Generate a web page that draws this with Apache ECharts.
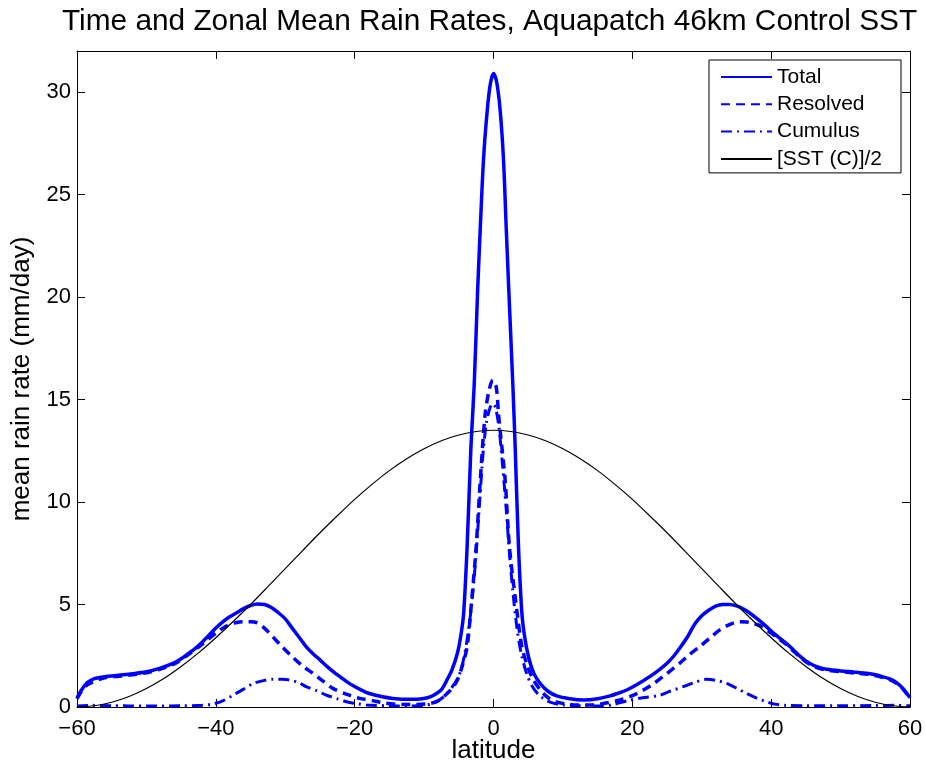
<!DOCTYPE html>
<html>
<head>
<meta charset="utf-8">
<script src="https://cdn.jsdelivr.net/npm/echarts@6/dist/echarts.min.js"></script>
<style>html,body{margin:0;padding:0;background:#fff;overflow:hidden;}#c{width:926px;height:765px;}</style>
</head>
<body>
<div id="c"></div>
<script>
// ---- data ----
const xTicks = [-60, -40, -20, 0, 20, 40, 60];
const yTicks = [0, 5, 10, 15, 20, 25, 30];

const totalLat = [-60,-59.5,-59,-58.5,-57.5,-56,-54,-52,-50,-48,
  -46,-45,-44,-43,-42,-41,-40,-39,-38,-37,
  -36,-35,-34,-33,-32,-31,-30,-29,-28,-27,
  -26,-25,-24,-23,-22,-21,-20,-19,-18,-16,
  -14.5,-13,-11,-9.5,-8.5,-7.5,-6.7,-6,-5.2,-4.7,
  -4.3,-3.8,-3.25,-2.78,-2.3,-1.9,-1.44,-0.9,-0.45,0,
  0.45,0.96,1.44,1.83,2.22,2.8,3.12,3.6,4.09,4.5,
  5.04,5.8,6.7,7.8,9.1,11,13,15,16.8,18,
  19.2,20.8,22.5,24,25,26,27,28,29,30,
  31,32,33,34,35,36,37,38,39,40,
  41,42,43,44,45,46,47,48,50,52,
  54,55,56,57,58,59,60];
const totalVal = [0.44,0.75,1.0,1.2,1.38,1.48,1.55,1.62,1.72,1.9,
  2.15,2.35,2.6,2.85,3.15,3.5,3.85,4.15,4.4,4.6,
  4.8,4.95,5.02,5.0,4.85,4.6,4.3,3.85,3.4,2.95,
  2.6,2.3,1.98,1.7,1.45,1.2,1.0,0.82,0.67,0.5,
  0.42,0.38,0.38,0.45,0.6,0.85,1.32,1.8,2.62,3.5,
  4.57,7.82,12.7,15.7,20.2,23.4,26.7,29.1,30.4,30.9,
  30.5,29.1,26.7,23.4,20.2,15.6,12.7,7.82,4.57,3.4,
  2.45,1.65,1.16,0.78,0.54,0.4,0.34,0.4,0.54,0.68,
  0.83,1.12,1.48,1.85,2.13,2.5,2.95,3.45,4.05,4.45,
  4.72,4.92,5.0,5.0,4.93,4.78,4.56,4.3,4.02,3.7,
  3.42,3.15,2.85,2.52,2.25,2.05,1.92,1.84,1.76,1.7,
  1.63,1.57,1.48,1.38,1.2,0.9,0.45];

const resolvedLat = [-60,-59,-58,-56,-54,-52,-50,-48,-46,-44,
  -42,-40,-38.5,-37,-36,-35,-34,-33,-31.8,-30.5,
  -29,-27.5,-26,-24.5,-23.15,-21,-19.3,-17,-15.5,-13,
  -11,-9,-8,-7.2,-6,-5.2,-4.5,-3.8,-3.1,-2.5,
  -1.9,-1.2,-0.6,-0.1,0.4,0.72,1.2,1.68,2.3,3.12,
  4.09,5,5.76,6.7,7.69,9,10.5,12,14.4,16,
  18.2,20,21.6,23,24.4,25.6,26.8,28.2,29.7,31.2,
  32.6,34,35.5,36.5,37.4,38.5,39.5,40.7,42,43,
  44,45,46,47,48,50,52,54,55,56,
  57,58,59,60];
const resolvedVal = [0.4,0.95,1.18,1.43,1.5,1.57,1.67,1.85,2.1,2.55,
  3.05,3.6,3.95,4.12,4.16,4.16,4.1,3.85,3.43,2.95,
  2.45,2.0,1.64,1.25,0.91,0.6,0.42,0.28,0.18,0.12,
  0.12,0.18,0.3,0.5,0.9,1.32,2.0,2.94,5.38,7.8,
  11.07,14.3,15.5,15.95,15.6,14.3,12.7,11.07,7.8,5.38,
  2.94,1.9,1.32,0.85,0.5,0.25,0.15,0.1,0.1,0.18,
  0.34,0.55,0.83,1.12,1.48,1.8,2.13,2.55,2.94,3.37,
  3.76,4.02,4.16,4.15,4.08,3.95,3.72,3.43,3.1,2.8,
  2.48,2.2,2.0,1.88,1.8,1.72,1.66,1.6,1.53,1.45,
  1.35,1.17,0.87,0.42];

const cumulusLat = [-60,-58,-55,-50,-45,-42,-40.4,-39,-37.5,-36,
  -34.6,-33,-31.8,-30.5,-29.4,-28,-27,-25.5,-24.1,-22.5,
  -21.2,-19.5,-18.3,-15,-12,-10,-9,-8,-7,-6,
  -5,-4.2,-3.5,-3,-2.5,-2,-1.5,-1,-0.5,-0.1,
  0.3,0.8,1.3,1.8,2.3,2.8,3.4,4,4.8,5.6,
  6.5,7.5,8.5,10,12,15,17,19.2,21.5,24,
  25.5,27.3,29,30.7,32,33.5,35,36.4,38,39.3,
  40.5,42,45,50,55,58,60];
const cumulusVal = [0.05,0.08,0.06,0.05,0.06,0.08,0.15,0.3,0.58,0.87,
  1.15,1.3,1.35,1.35,1.32,1.18,0.99,0.8,0.58,0.4,
  0.26,0.15,0.1,0.06,0.05,0.08,0.15,0.3,0.55,0.95,
  1.5,2.5,4.0,5.5,7.5,10,12.4,13.9,14.6,14.8,
  14.6,13.6,11.8,9.8,7.5,5.6,3.8,2.6,1.6,1.0,
  0.6,0.35,0.2,0.1,0.06,0.05,0.1,0.3,0.45,0.58,
  0.78,0.99,1.2,1.35,1.3,1.16,0.92,0.67,0.42,0.26,
  0.14,0.08,0.06,0.06,0.07,0.08,0.06];

const sstLat = [-60,-57.5,-55,-52.5,-50,-47.5,-45,-42.5,-40,-37.5,
  -35,-32.5,-30,-27.5,-25,-22.5,-20,-17.5,-15,-12.5,
  -10,-7.5,-5,-2.5,0,2.5,5,7.5,10,12.5,
  15,17.5,20,22.5,25,27.5,30,32.5,35,37.5,
  40,42.5,45,47.5,50,52.5,55,57.5,60];
const sstVal = [0,0.06,0.23,0.51,0.9,1.39,1.98,2.64,3.38,4.17,
  5.0,5.87,6.75,7.63,8.5,9.33,10.13,10.86,11.53,12.11,
  12.6,12.99,13.27,13.44,13.5,13.44,13.27,12.99,12.6,12.11,
  11.53,10.86,10.13,9.33,8.5,7.63,6.75,5.87,5.0,4.17,
  3.38,2.64,1.98,1.39,0.9,0.51,0.23,0.06,0];

const seriesNames = ['Total', 'Resolved', 'Cumulus', '[SST (C)]/2'];

function zip(a, b) { return a.map((x, i) => [x, b[i]]); }

const FONT = "'Liberation Sans', Arial, Helvetica, sans-serif";
const BLUE = '#0000ff';

const chart = echarts.init(document.getElementById('c'), null, { renderer: 'canvas' });

const baseX = {
  type: 'value', min: xTicks[0], max: xTicks[xTicks.length - 1], interval: 20,
  axisLine: { show: true, onZero: false, lineStyle: { color: '#000', width: 1 } },
  axisTick: { show: true, inside: true, length: 8, lineStyle: { color: '#000', width: 1 } },
  splitLine: { show: false }
};
const baseY = {
  type: 'value', min: 0, max: 32, interval: 5,
  axisLine: { show: true, onZero: false, lineStyle: { color: '#000', width: 1 } },
  axisTick: { show: true, inside: true, length: 8, lineStyle: { color: '#000', width: 1 } },
  splitLine: { show: false }
};

chart.setOption({
  animation: false,
  backgroundColor: '#fff',
  title: {
    text: 'Time and Zonal Mean Rain Rates, Aquapatch 46km Control SST',
    left: 57, top: 2,
    textStyle: { fontFamily: FONT, fontSize: 29.8, fontWeight: 'normal', color: '#000' }
  },
  grid: { left: 77, right: 16, top: 51, bottom: 58, containLabel: false, outerBoundsMode: 'none' },
  legend: {
    orient: 'vertical',
    right: 25, top: 60,
    data: seriesNames,
    backgroundColor: '#fff',
    borderColor: '#000', borderWidth: 1, borderRadius: 0,
    padding: [6, 19, 3, 11],
    itemWidth: 51, itemHeight: 14, itemGap: 5.3, itemTextGap: 5,
    itemStyle: { color: 'rgba(0,0,0,0)', borderWidth: 0, opacity: 0 },
    textStyle: { fontFamily: FONT, fontSize: 21, color: '#000', lineHeight: 22 }
  },
  xAxis: [
    Object.assign({}, baseX, {
      position: 'bottom',
      name: 'latitude', nameLocation: 'middle', nameGap: 31, nameMoveOverlap: false,
      nameTextStyle: { fontFamily: FONT, fontSize: 26, color: '#000' },
      axisLabel: {
        show: true, margin: 11, fontFamily: FONT, fontSize: 22, color: '#000',
        formatter: v => String(v).replace('-', '\u2212')
      }
    }),
    Object.assign({}, baseX, { position: 'top', axisLabel: { show: false } })
  ],
  yAxis: [
    Object.assign({}, baseY, {
      position: 'left',
      name: 'mean rain rate (mm/day)', nameLocation: 'middle', nameGap: 42, nameMoveOverlap: false,
      nameTextStyle: { fontFamily: FONT, fontSize: 26, color: '#000' },
      axisLabel: {
        show: true, margin: 6, fontFamily: FONT, fontSize: 22, color: '#000',
        formatter: v => (yTicks.indexOf(v) >= 0 ? String(v) : '')
      }
    }),
    Object.assign({}, baseY, { position: 'right', axisLabel: { show: false } })
  ],
  series: [
    {
      name: seriesNames[0], type: 'line', data: zip(totalLat, totalVal),
      symbol: 'none', smooth: 0.3, color: BLUE,
      lineStyle: { color: BLUE, width: 3.5, type: 'solid' }
    },
    {
      name: seriesNames[1], type: 'line', data: zip(resolvedLat, resolvedVal),
      symbol: 'none', smooth: 0.3, color: BLUE,
      lineStyle: { color: BLUE, width: 3.5, type: [9, 6] }
    },
    {
      name: seriesNames[2], type: 'line', data: zip(cumulusLat, cumulusVal),
      symbol: 'none', smooth: 0.3, color: BLUE,
      lineStyle: { color: BLUE, width: 3, type: [11, 5, 2, 5] }
    },
    {
      name: seriesNames[3], type: 'line', data: zip(sstLat, sstVal),
      symbol: 'none', smooth: 0.3, color: '#000',
      lineStyle: { color: '#000', width: 1.2, type: 'solid' }
    }
  ]
});
</script>
</body>
</html>
